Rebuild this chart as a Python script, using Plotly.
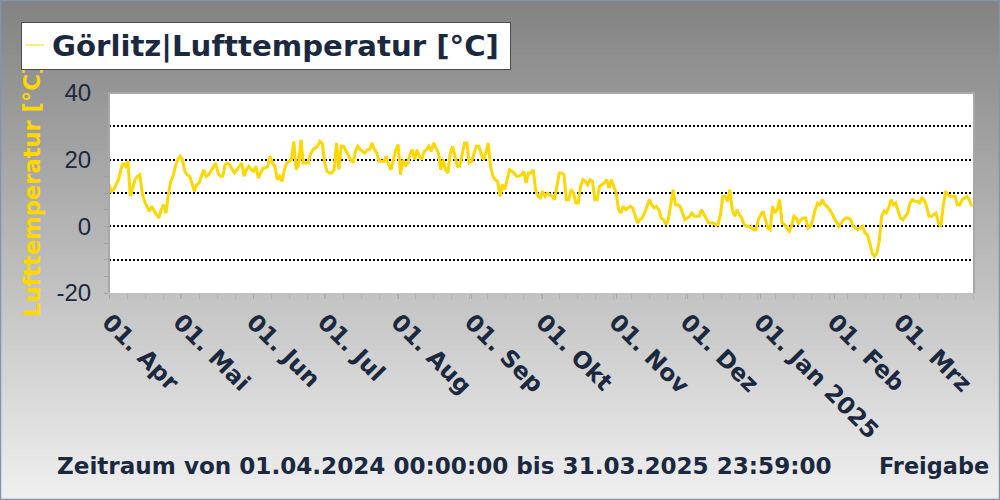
import plotly.graph_objects as go
import pandas as pd

# ---------------- data ----------------
start_date = "2024-04-01"
temps = [
    12.5, 10.5, 11, 12.5, 14, 17, 19, 18, 19.5, 9,
    11.5, 14, 15, 15.5, 10, 7.5, 6, 4.5, 6, 4.5,
    3.5, 2.5, 5, 6.5, 4, 9, 13.5, 15, 18, 20,
    21, 20, 16.5, 15.5, 15, 13, 10.5, 12.5, 13, 15,
    17, 15, 15.5, 16.5, 18, 19, 16, 15, 15, 18.5,
    19, 18.5, 17, 16, 17, 18, 19, 15, 17, 18,
    17, 16.5, 18, 14.5, 16, 17.5, 17.5, 18, 21, 19,
    18, 14, 15, 13.5, 17, 19, 19.5, 20, 25.5, 17,
    18.5, 26, 19, 19, 19, 21.5, 23, 23.5, 24, 25.5,
    25, 19, 16.5, 16, 16, 17, 25, 17, 24, 24,
    22.5, 21.5, 20, 19, 22.5, 24, 23, 22.5, 22, 23,
    23, 25, 23, 22, 19.5, 19.5, 19.5, 21, 18.5, 17,
    20.5, 23, 24.5, 15.5, 20, 18, 19, 21.5, 23, 20,
    23, 21, 20, 22.5, 23, 24, 22.5, 25, 23.5, 22,
    17, 20, 17, 16, 22, 24, 21, 18, 18, 22,
    25, 25, 19, 19.5, 22, 24, 24, 22, 20, 22,
    25, 18, 15, 14, 13.5, 9, 12.5, 11, 14, 17,
    16.5, 16, 15, 15, 15.5, 16.5, 13, 16, 16, 17,
    11, 9, 8.5, 10.5, 9, 10, 9.5, 9, 8, 12,
    16, 16, 15.5, 8, 8, 11, 10, 7, 7, 12,
    14, 13.5, 12.5, 14, 13.5, 8, 8, 12, 12.5, 13,
    14, 11.5, 14, 12, 10, 5, 4, 6, 5, 5.5,
    6, 5.5, 3, 1, 2, 2.5, 4, 6, 8, 6.5,
    5.5, 6, 5, 2.5, 2, 0.5, 2, 6.5, 11, 6.5,
    6.5, 6, 4, 2, 2.5, 3, 4, 3, 3, 3,
    5, 3.5, 2, 1, 1, 1, 0.5, 0.5, 3.5, 9,
    9, 7.5, 11, 5, 3, 5, 3.5, 2.5, 0.5, 0,
    0, -0.5, -1, -1, 2, 3.5, 4.5, 2, -0.5, -1,
    6, 4, 5, 8, 1, 0.5, -0.5, -1.5, 0, 3,
    2.5, 1, 2, 2.5, 2.5, -0.5, 0, 2, 5, 7,
    6.5, 8, 6.5, 6, 5, 4, 2.5, 1, 0, 1,
    2, 2.5, 2.5, 2, 0, -0.5, -1, -0.5, 0, -2,
    -2.5, -5, -8, -9, -8, -4.5, 3, 4.5, 4, 5.5,
    8, 6.5, 7, 4.5, 2.5, 2, 3, 4, 7, 8,
    7.5, 7.5, 7, 8.5, 8, 6, 3, 3, 3.5, 4,
    1, 0, 6, 10.5, 9.5, 9, 9, 9, 6.5, 6.5,
    8, 8.5, 9, 8, 6,
]
dates = pd.date_range(start_date, periods=len(temps), freq="D")

x_range = ["2024-04-01", "2025-04-01"]
month_ticks = ["2024-04-01", "2024-05-01", "2024-06-01", "2024-07-01",
               "2024-08-01", "2024-09-01", "2024-10-01", "2024-11-01",
               "2024-12-01", "2025-01-01", "2025-02-01", "2025-03-01"]
month_labels = ["01. Apr", "01. Mai", "01. Jun", "01. Jul", "01. Aug",
                "01. Sep", "01. Okt", "01. Nov", "01. Dez", "01. Jan 2025",
                "01. Feb", "01. Mrz"]
y_ticks = [-20, -10, 0, 10, 20, 30, 40]
y_labels = ["-20", "", "0", "", "20", "", "40"]

series_name = "Görlitz|Lufttemperatur [°C]"
y_title = "Lufttemperatur [°C]"
footer_text = "Zeitraum von 01.04.2024 00:00:00 bis 31.03.2025 23:59:00"
footer_right = "Freigabe"

# ---------------- layout geometry ----------------
W, H = 1000, 500
ML, MR, MT, MB = 109, 26, 93, 207
PW, PH = W - ML - MR, H - MT - MB
NAVY = "#1b2940"
GOLD = "#FFD700"


def px(x):
    return (x - ML) / PW


def py(y):
    return (H - MB - y) / PH


fig = go.Figure()
fig.add_trace(go.Scatter(x=dates, y=temps, mode="lines", name=series_name,
                         line=dict(color=GOLD, width=3), showlegend=False))

shapes = []
# vertical gray gradient background
n = 100
for i in range(n):
    g = int(round(130 + (240 - 130) * (i + 0.5) / n))
    shapes.append(dict(type="rect", xref="paper", yref="paper",
                       x0=px(0), x1=px(W), y0=py((i + 1) * H / n), y1=py(i * H / n),
                       fillcolor=f"rgb({g},{g},{g})", line=dict(width=0), layer="below"))
# white plot area
shapes.append(dict(type="rect", xref="paper", yref="paper", x0=0, x1=1, y0=0, y1=1,
                   fillcolor="white", line=dict(width=0), layer="below"))
# plot frame left/top/right
shapes.append(dict(type="path", xref="paper", yref="paper",
                   path="M0,0 L0,1 L1,1 L1,0",
                   line=dict(color="#a8a8a8", width=2), layer="above"))
# outer border
shapes.append(dict(type="rect", xref="paper", yref="paper",
                   x0=px(0.5), x1=px(W - 0.5), y0=py(H - 0.5), y1=py(0.5),
                   line=dict(color="#8495ab", width=1.5), fillcolor="rgba(0,0,0,0)",
                   layer="above"))

bold = dict(family="DejaVu Sans", weight="bold", color=NAVY)

annotations = [
    # y-axis title
    dict(text=y_title, xref="paper", yref="paper", x=px(32), y=py(191),
         xanchor="center", yanchor="middle", textangle=-90, showarrow=False,
         font=dict(family="DejaVu Sans", weight="bold", size=22.6, color=GOLD)),
    # legend / title box
    dict(text="", xref="paper", yref="paper", x=px(21), y=py(22),
         xanchor="left", yanchor="top", width=488, height=46, showarrow=False,
         bgcolor="white", bordercolor="#4a4a4a", borderwidth=1, borderpad=0),
    dict(text=series_name, xref="paper", yref="paper", x=px(50), y=py(46),
         xanchor="left", yanchor="middle", showarrow=False,
         font=dict(size=29.2, **bold)),
    # legend line
    dict(text="", xref="paper", yref="paper", x=px(44), y=py(45), ax=-20, ay=0,
         showarrow=True, arrowhead=0, arrowwidth=1, arrowcolor=GOLD, standoff=0,
         startstandoff=0),
    # footer
    dict(text=footer_text, xref="paper", yref="paper", x=px(55), y=py(466),
         xanchor="left", yanchor="middle", showarrow=False,
         font=dict(size=23.1, **bold)),
    dict(text=footer_right, xref="paper", yref="paper", x=px(991), y=py(466),
         xanchor="right", yanchor="middle", showarrow=False,
         font=dict(size=22.4, **bold)),
]

fig.update_layout(
    width=W, height=H,
    margin=dict(l=ML, r=MR, t=MT, b=MB, autoexpand=False),
    paper_bgcolor="#c0c0c0", plot_bgcolor="white",
    shapes=shapes, annotations=annotations, showlegend=False,
    xaxis=dict(type="date", range=x_range, tickvals=month_ticks, ticktext=month_labels,
               tickangle=45, tickfont=dict(size=23.5, **bold),
               ticks="outside", ticklen=5, tickcolor="#aaaaaa", tickwidth=1,
               showgrid=False, zeroline=False, showline=False,
               minor=dict(dtick=656640000, tick0="2024-04-01", ticks="outside",
                          ticklen=5, tickcolor="#b4b4b4", showgrid=False)),
    yaxis=dict(range=[-20, 40], tickvals=y_ticks, ticktext=y_labels,
               tickfont=dict(family="Liberation Sans", size=24, color=NAVY),
               showgrid=True, gridcolor="black", gridwidth=2, griddash="2px,2px",
               zeroline=False, showline=False,
               ticks="outside", ticklen=4, tickcolor="#a0a0a0", ticklabelstandoff=8,
               minor=dict(dtick=5, ticks="outside", ticklen=4, tickcolor="#a0a0a0",
                          showgrid=False)),
)

fig.write_html("out.html", config={"displayModeBar": False},
               post_script="document.body.style.margin='0';document.body.style.overflow='hidden';")
